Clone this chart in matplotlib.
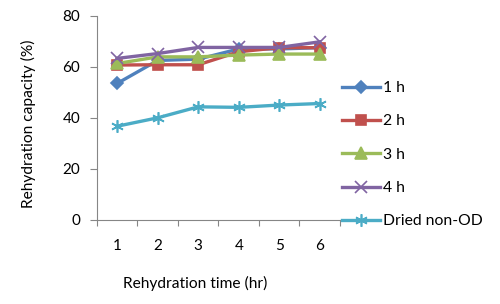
import numpy as np
import matplotlib.pyplot as plt

plt.rcParams['font.family'] = ['Lato', 'DejaVu Sans']

# rehydration data
hours = [1, 2, 3, 4, 5, 6]
h1 = [53.5, 62.5, 63.0, 67.0, 67.0, 67.5]
h2 = [60.7, 60.8, 60.8, 65.9, 67.5, 67.5]
h3 = [61.3, 63.9, 63.9, 64.6, 65.0, 65.0]
h4 = [63.3, 65.2, 67.6, 67.6, 67.6, 69.8]
dried = [36.7, 40.0, 44.3, 44.1, 45.0, 45.6]

labels = ["1 h", "2 h", "3 h", "4 h", "Dried non-OD"]
series = [h1, h2, h3, h4, dried]
colors = ["#4F81BD", "#C0504D", "#9BBB59", "#8064A2", "#4BACC6"]
markers = ["D", "s", "^", "x", (6, 2, 0)]
msizes = [6, 7.5, 8, 8, 9]

fig = plt.figure(figsize=(5, 3.04), dpi=100)
ax = fig.add_axes([0.194, 0.277, 0.486, 0.671])

for ys, lab, c, m, ms in zip(series, labels, colors, markers, msizes):
    ax.plot(hours, ys, color=c, lw=2.4, marker=m, markersize=ms,
            markeredgewidth=1.2, markerfacecolor=c, markeredgecolor=c, label=lab)

ax.set_xlim(0.5, 6.5)
ax.set_ylim(0, 80)
ax.set_yticks([0, 20, 40, 60, 80])
ax.set_xticks(hours)
ax.set_xticks(np.arange(0.5, 7, 1), minor=True)
ax.tick_params(axis='x', which='major', length=0, pad=14, labelsize=11)
ax.tick_params(axis='x', which='minor', length=4, color='#868686', width=0.8)
ax.tick_params(axis='y', length=5, color='#868686', width=0.8, labelsize=11, pad=7)

for s in ['top', 'right']:
    ax.spines[s].set_visible(False)
for s in ['left', 'bottom']:
    ax.spines[s].set_color('#868686')
    ax.spines[s].set_linewidth(0.8)

xt = fig.text(0.391, 0.069, "Rehydration time (hr)", ha='center', va='center', fontsize=10)
yt = fig.text(0.056, 0.594, "Rehydration capacity (%)", ha='center', va='center',
              rotation=90, fontsize=10)

# the titles in the original use a narrow face, so size them by width
fig.canvas.draw()
r = fig.canvas.get_renderer()
w = xt.get_window_extent(r).width
size = 10 * 145 / w
xt.set_fontsize(size)
yt.set_fontsize(size)

ax.legend(loc='upper left', bbox_to_anchor=(0.684, 0.733), bbox_transform=fig.transFigure,
          frameon=False, fontsize=11.3, handlelength=2.42, handletextpad=0.2,
          labelspacing=1.23, borderpad=0, borderaxespad=0)

fig.savefig("out.png", dpi=100)
